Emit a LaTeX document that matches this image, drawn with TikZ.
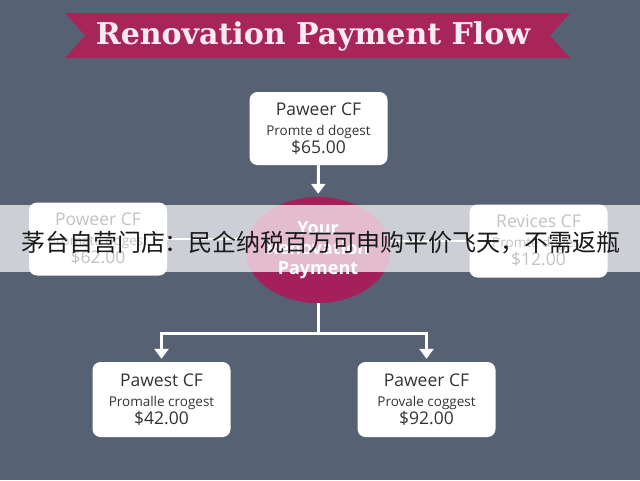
\documentclass[tikz,border=0pt]{standalone}
\usepackage{fontspec}
\setmainfont{Open Sans}
\newfontfamily\titlefont{DejaVu Serif}
\newfontfamily\cjk{Noto Sans CJK SC}
\usetikzlibrary{arrows.meta,shapes.geometric}

\definecolor{slate}{HTML}{576174}
\definecolor{berry}{HTML}{A3205A}
\definecolor{ribbon}{HTML}{A72559}
\definecolor{inkgrey}{HTML}{333333}
\definecolor{titleink}{HTML}{FCEAF2}

\begin{document}
\begin{tikzpicture}[
        x=1pt, y=-1pt,
        cfbox/.style={rectangle, rounded corners=8pt, fill=white, minimum width=138pt, minimum height=73pt, align=center, text=inkgrey, inner sep=0pt, font=\fontsize{17.5}{18}\selectfont},
        hub/.style={ellipse, fill=berry, minimum width=137pt, minimum height=106pt, inner sep=0pt, align=center, text=white, font=\bfseries\fontsize{18}{20}\selectfont},
        heading/.style={text=titleink, font=\titlefont\bfseries\fontsize{30}{32}\selectfont, inner sep=0pt},
        flow/.style={white, line width=3pt, -{Triangle[width=14pt,length=10pt]}, shorten >=3pt},
        link/.style={white, line width=2pt}
    ]
        % Background and title ribbon
        \fill[slate] (0,0) rectangle (640,480);
        \fill[ribbon] (65,13) -- (570,13) -- (550,35.5) -- (570,58) -- (65,58) -- (85,35.5) -- cycle;
        \node[heading, anchor=base] (title) at (313,44) {Renovation Payment Flow};

        % Payment nodes
        \node[hub] (hub) at (318,250) {Your\\Renovation\\Payment};
        \node[cfbox] (top) at (318.5,128.5) {Paweer CF\\[2pt]{\fontsize{13.5}{14}\selectfont Promte d dogest}\\\$65.00};
        \node[cfbox] (lft) at (98,239) {Poweer CF\\[2pt]{\fontsize{13.5}{14}\selectfont Promate oogest}\\\$62.00};
        \node[cfbox] (rgt) at (538.5,241) {Revices CF\\[2pt]{\fontsize{13.5}{14}\selectfont Promte dogest}\\\$12.00};
        \node[cfbox, minimum height=75pt] (bl) at (161.5,399.5) {Pawest CF\\[2pt]{\fontsize{13.5}{14}\selectfont Promalle crogest}\\\$42.00};
        \node[cfbox, minimum height=75pt] (br) at (426.5,399.5) {Paweer CF\\[2pt]{\fontsize{13.5}{14}\selectfont Provale coggest}\\\$92.00};
        \coordinate (split) at (318,333);

        % Flow lines
        \draw[flow] (top) -- (hub);
        \draw[link] (lft.east) -- (lft.east -| hub.west);
        \draw[link] (rgt.west) -- (rgt.west -| hub.east);
        \draw[white, line width=3pt] (hub) -- (split);
        \draw[flow] (split) -| (bl);
        \draw[flow] (split) -| (br);

        % Overlay band
        \fill[white, opacity=0.7] (0,205) rectangle (640,272);
        \node[font=\cjk\fontsize{24}{24}\selectfont, text=black!90, inner sep=0pt] (notice) at (321,243) {茅台自营门店：民企纳税百万可申购平价飞天，不需返瓶};
    \end{tikzpicture}
\end{document}
